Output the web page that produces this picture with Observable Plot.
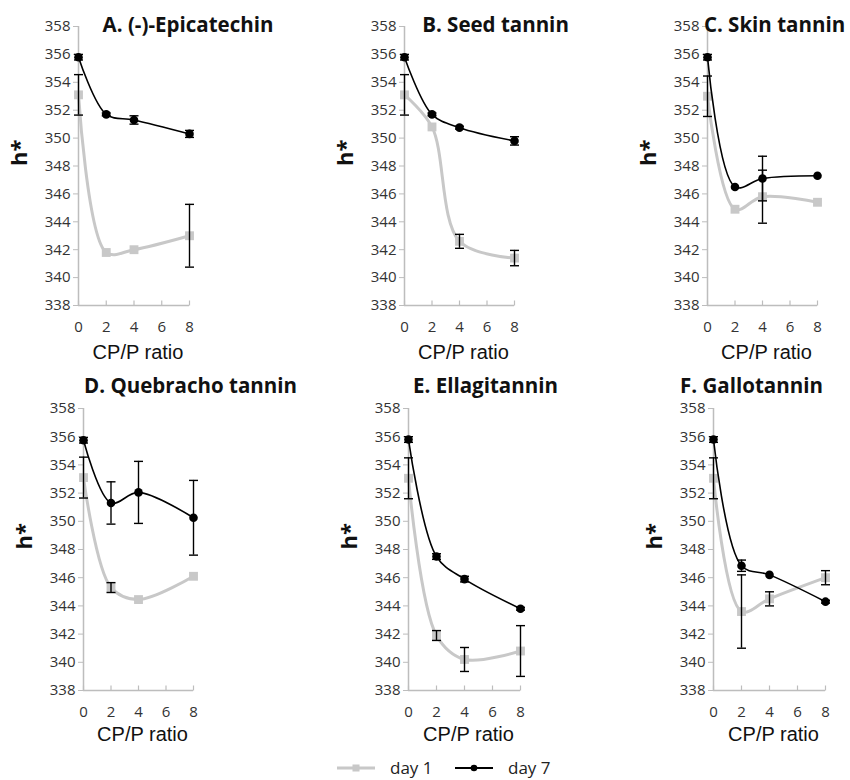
<!DOCTYPE html>
<html><head><meta charset="utf-8">
<script src="https://cdn.jsdelivr.net/npm/d3@7"></script>
<script src="https://cdn.jsdelivr.net/npm/@observablehq/plot@0.6"></script>
<style>
body{margin:0;background:#fff}
#chart{position:relative;width:850px;height:780px;overflow:hidden;background:#fff}
#chart svg.panel{position:absolute}
#legend{position:absolute;left:0;top:756px;width:850px;height:24px;font-family:"Open Sans",sans-serif;font-size:17px;color:#222}
</style>
</head><body><div id="chart"><div id="legend"></div></div>
<script>
// ---- data ----
const ratios = [0, 2, 4, 8];
const xTicks = [0, 2, 4, 6, 8];
const yTicks = [338, 340, 342, 344, 346, 348, 350, 352, 354, 356, 358];
const titles = ["A. (-)-Epicatechin", "B. Seed tannin", "C. Skin tannin",
                "D. Quebracho tannin", "E. Ellagitannin", "F. Gallotannin"];
const seriesNames = ["day 1", "day 7"];

const day1A = [353.1, 341.8, 342.0, 343.0];   const day1AErr = [1.45, 0, 0, 2.25];
const day7A = [355.8, 351.7, 351.3, 350.3];   const day7AErr = [0.2, 0.1, 0.3, 0.25];
const day1B = [353.1, 350.8, 342.6, 341.4];   const day1BErr = [1.45, 0, 0.5, 0.55];
const day7B = [355.8, 351.7, 350.75, 349.8];  const day7BErr = [0.2, 0.1, 0.1, 0.3];
const day1C = [353.0, 344.9, 345.8, 345.4];   const day1CErr = [1.45, 0, 1.9, 0];
const day7C = [355.8, 346.5, 347.1, 347.3];   const day7CErr = [0.2, 0, 1.6, 0];
const day1D = [353.1, 345.3, 344.45, 346.1];  const day1DErr = [1.45, 0.35, 0, 0];
const day7D = [355.75, 351.3, 352.05, 350.25];const day7DErr = [0.2, 1.5, 2.2, 2.65];
const day1E = [353.05, 341.9, 340.2, 340.8];  const day1EErr = [1.45, 0.35, 0.85, 1.8];
const day7E = [355.8, 347.5, 345.9, 343.8];   const day7EErr = [0.2, 0.2, 0.2, 0.1];
const day1F = [353.05, 343.6, 344.5, 346.0];  const day1FErr = [1.45, 2.6, 0.5, 0.5];
const day7F = [355.8, 346.85, 346.2, 344.3];  const day7FErr = [0.2, 0.4, 0, 0.1];

const day1 = [day1A, day1B, day1C, day1D, day1E, day1F];
const day1Err = [day1AErr, day1BErr, day1CErr, day1DErr, day1EErr, day1FErr];
const day7 = [day7A, day7B, day7C, day7D, day7E, day7F];
const day7Err = [day7AErr, day7BErr, day7CErr, day7DErr, day7EErr, day7FErr];

// ---- layout (pixel positions of each panel's axes) ----
const layout = [
  {x0: 78,  x8: 189, yTop: 26,  h: 279, titleDx: 54,  titleDy: -1,  labelDy: 47},
  {x0: 404, x8: 514, yTop: 26,  h: 279, titleDx: 36,  titleDy: -1,  labelDy: 47},
  {x0: 707, x8: 817, yTop: 26,  h: 279, titleDx: 12,  titleDy: -1,  labelDy: 47},
  {x0: 83,  x8: 193, yTop: 408, h: 282, titleDx: 52,  titleDy: -22, labelDy: 44},
  {x0: 408, x8: 520, yTop: 408, h: 282, titleDx: 21,  titleDy: -22, labelDy: 44},
  {x0: 713, x8: 825, yTop: 408, h: 282, titleDx: -18, titleDy: -22, labelDy: 44}
];

const GRAY = "#c8c8c8", AXIS = "#bdbdbd", INK = "#000";
const capSymbol = {draw(ctx) { ctx.moveTo(-4.5, 0); ctx.lineTo(4.5, 0); }};
const tickUp = {draw(ctx) { ctx.moveTo(0, 0); ctx.lineTo(0, -5); }};

const chart = document.getElementById("chart");
const mL = 78, mR = 40, mT = 26, mB = 70;

titles.forEach((title, p) => {
  const L = layout[p];
  const rows = [];
  ratios.forEach((r, i) => {
    rows.push({series: "day 1", x: r, y: day1[p][i], err: day1Err[p][i]});
  });
  ratios.forEach((r, i) => {
    rows.push({series: "day 7", x: r, y: day7[p][i], err: day7Err[p][i]});
  });
  const d1 = rows.filter(d => d.series === "day 1");
  const d7 = rows.filter(d => d.series === "day 7");
  const errs = rows.filter(d => d.err > 0);

  const plot = Plot.plot({
    width: mL + (L.x8 - L.x0) + mR,
    height: mT + L.h + mB,
    marginLeft: mL, marginRight: mR, marginTop: mT, marginBottom: mB,
    style: {overflow: "visible", background: "transparent", fontFamily: "Open Sans, sans-serif"},
    x: {domain: [0, 8]},
    y: {domain: [338, 358]},
    marks: [
      Plot.axisY({ticks: yTicks, tickSize: 5, tickPadding: 3, fontSize: 15, stroke: AXIS, fill: "#333", label: null}),
      Plot.axisX({ticks: xTicks, tickSize: 0, tickPadding: 16, fontSize: 15, fill: "#333", label: null}),
      Plot.dot(xTicks, {x: d => d, frameAnchor: "bottom", symbol: tickUp, stroke: AXIS, strokeWidth: 1.2}),
      Plot.ruleY([338], {stroke: AXIS, strokeWidth: 1.5}),
      Plot.ruleX([0], {stroke: AXIS, strokeWidth: 1.5}),
      Plot.line(d1, {x: "x", y: "y", stroke: GRAY, strokeWidth: 3, curve: "catmull-rom"}),
      Plot.dot(d1, {x: "x", y: "y", symbol: "square", r: 5, fill: GRAY}),
      Plot.line(d7, {x: "x", y: "y", stroke: INK, strokeWidth: 1.6, curve: "catmull-rom"}),
      Plot.dot(d7, {x: "x", y: "y", symbol: "circle", r: 4.3, fill: INK}),
      Plot.ruleX(errs, {x: "x", y1: d => d.y - d.err, y2: d => d.y + d.err, stroke: INK, strokeWidth: 1.4}),
      Plot.dot(errs, {x: "x", y: d => d.y - d.err, symbol: capSymbol, stroke: INK, strokeWidth: 1.4}),
      Plot.dot(errs, {x: "x", y: d => d.y + d.err, symbol: capSymbol, stroke: INK, strokeWidth: 1.4}),
      Plot.text([title], {text: d => d, frameAnchor: "top", dx: L.titleDx, dy: L.titleDy, lineAnchor: "middle",
        fontSize: 20.5, fontWeight: "bold", fill: "#111", fontFamily: "Open Sans, sans-serif"}),
      Plot.text(["h*"], {text: d => d, frameAnchor: "left", dx: -59, rotate: -90, lineAnchor: "middle",
        fontSize: 22, fontWeight: "bold", fill: "#111", fontFamily: "Open Sans, sans-serif"}),
      Plot.text(["CP/P ratio"], {text: d => d, frameAnchor: "bottom", dx: 4, dy: L.labelDy, lineAnchor: "middle",
        fontSize: 20, fill: "#111", fontFamily: "Liberation Sans, Arial, sans-serif"})
    ]
  });
  plot.classList.add("panel");
  plot.style.left = (L.x0 - mL) + "px";
  plot.style.top = (L.yTop - mT) + "px";
  chart.appendChild(plot);
});

// ---- legend ----
const legend = d3.select("#legend");
const lsvg = legend.append("svg").attr("width", 850).attr("height", 24).style("position", "absolute").style("left", 0).style("top", 0);
const items = [
  {name: seriesNames[0], x1: 337, x2: 375, color: GRAY, w: 3, sym: "square", text: 390},
  {name: seriesNames[1], x1: 455, x2: 493, color: INK, w: 2, sym: "circle", text: 508}
];
items.forEach(it => {
  lsvg.append("line").attr("x1", it.x1).attr("x2", it.x2).attr("y1", 12).attr("y2", 12)
    .attr("stroke", it.color).attr("stroke-width", it.w);
  const cx = (it.x1 + it.x2) / 2;
  if (it.sym === "square") lsvg.append("rect").attr("x", cx - 3.5).attr("y", 8.5).attr("width", 7).attr("height", 7).attr("fill", it.color);
  else lsvg.append("circle").attr("cx", cx).attr("cy", 12).attr("r", 3.3).attr("fill", it.color);
  lsvg.append("text").attr("x", it.text).attr("y", 12).attr("dy", "0.35em")
    .attr("font-family", "Open Sans, sans-serif").attr("font-size", 17).attr("fill", "#222").text(it.name);
});
</script></body></html>
